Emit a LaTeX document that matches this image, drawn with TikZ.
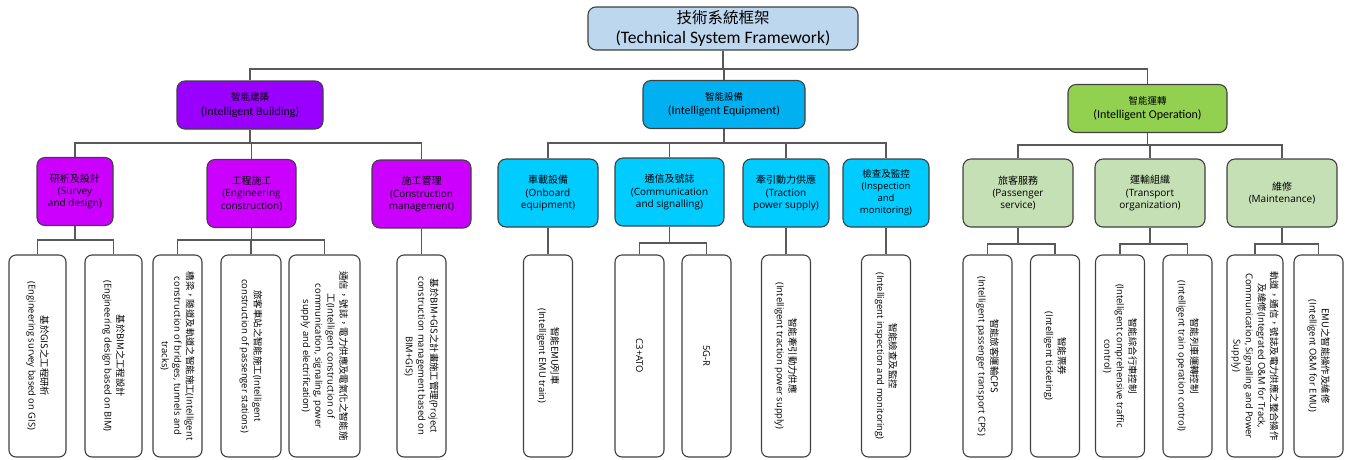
\documentclass[tikz,border=0pt]{standalone}
\usepackage{fontspec}
\setmainfont{Open Sans}
\newfontfamily\cjkfont{Noto Sans CJK TC}
\newfontfamily\calfont{Carlito}
\newcommand\zht[1]{{\cjkfont #1}}
\definecolor{rootc}{RGB}{189,215,238}
\definecolor{purA}{RGB}{153,0,255}
\definecolor{purB}{RGB}{204,0,255}
\definecolor{cyaA}{RGB}{0,176,240}
\definecolor{cyaB}{RGB}{0,204,255}
\definecolor{grnA}{RGB}{146,208,80}
\definecolor{grnB}{RGB}{197,224,180}
\definecolor{edgec}{RGB}{64,64,64}
\definecolor{connc}{RGB}{89,89,89}
\begin{document}
\begin{tikzpicture}[x=1pt,y=-1pt,
  box/.style={draw=edgec, line width=1.1pt, rounded corners=8pt, align=center, inner sep=0pt},
  rootbox/.style={box, fill=rootc, minimum width=270pt, minimum height=43pt, font=\calfont\fontsize{17.5}{20}\selectfont},
  lvA/.style={box, minimum height=48pt, font=\calfont\fontsize{12}{14.5}\selectfont},
  lvB/.style={box, minimum height=68pt, font=\fontsize{10}{12.3}\selectfont},
  leaf/.style={draw=edgec, line width=1.1pt, rounded corners=7pt, fill=white, minimum width=49pt, minimum height=202pt, inner sep=0pt},
  leaftext/.style={rotate=-90, align=center, inner sep=0pt, font=\fontsize{9.4}{12.3}\selectfont},
  conn/.style={draw=connc, line width=1.2pt}
]
\useasboundingbox (0,0) rectangle (1356,459);
\fill[white] (0,0) rectangle (1356,459);

% root
\node[rootbox] (root) at (723,28.5) {\zht{\fontsize{15.5}{20}\selectfont 技術系統框架}\\(Technical System Framework)};

% level 1
\node[lvA, fill=purA, minimum width=146pt] (bld) at (250,105) {\zht{\fontsize{9.5}{14.5}\selectfont 智能建築}\\(Intelligent Building)};
\node[lvA, fill=cyaA, minimum width=162pt] (equ) at (724,104.5) {\zht{\fontsize{9.5}{14.5}\selectfont 智能設備}\\(Intelligent Equipment)};
\node[lvA, fill=grnA, minimum width=159pt] (opr) at (1147.5,108.5) {\zht{\fontsize{9.5}{14.5}\selectfont 智能運轉}\\(Intelligent Operation)};

% level 2
\node[lvB, fill=purB, minimum width=76pt] (svy) at (75,191.5) {\zht{研析及設計}\\(Survey\\and design)};
\node[lvB, fill=purB, minimum width=89pt] (eng) at (251.5,193.5) {\zht{工程施工}\\(Engineering\\construction)};
\node[lvB, fill=purB, minimum width=99pt] (mgt) at (421.5,194) {\zht{施工管理}\\(Construction\\management)};
\node[lvB, fill=cyaB, minimum width=100pt] (onb) at (548,193) {\zht{車載設備}\\(Onboard\\equipment)};
\node[lvB, fill=cyaB, minimum width=109pt] (com) at (669.5,192) {\zht{通信及號誌}\\(Communication\\and signalling)};
\node[lvB, fill=cyaB, minimum width=86pt] (trc) at (786,193) {\zht{牽引動力供應}\\(Traction\\power supply)};
\node[lvB, fill=cyaB, minimum width=86pt, font=\fontsize{9.5}{12}\selectfont] (ins) at (886,193) {\zht{檢查及監控}\\(Inspection\\and\\monitoring)};
\node[lvB, fill=grnB, minimum width=110pt] (pas) at (1018,193) {\zht{旅客服務}\\(Passenger\\service)};
\node[lvB, fill=grnB, minimum width=110pt] (trn) at (1150,193) {\zht{運輸組織}\\(Transport\\organization)};
\node[lvB, fill=grnB, minimum width=110pt] (mnt) at (1282,193) {\zht{維修}\\(Maintenance)};

% leaves
\node[leaf, minimum width=57pt] (l1) at (37.5,356) {};
\node[leaftext] (l1t) at (l1) {\zht{基於GIS之工程研析}\\(Engineering survey based on GIS)};
\node[leaf, minimum width=57pt] (l2) at (113.5,356) {};
\node[leaftext] (l2t) at (l2) {\zht{基於BIM之工程設計}\\(Engineering design based on BIM)};
\node[leaf] (l3) at (177.5,356) {};
\node[leaftext] (l3t) at (l3) {\zht{橋梁，隧道及軌道之智能施工}(Intelligent\\construction of bridges, tunnels and\\tracks)};
\node[leaf, minimum width=60pt] (l4) at (251,356) {};
\node[leaftext] (l4t) at (l4) {\zht{旅客車站之智能施工}(Intelligent\\construction of passenger stations)};
\node[leaf, minimum width=71pt] (l5) at (324.5,356) {};
\node[leaftext] (l5t) at (l5) {\zht{通信，號誌，電力供應及電氣化之智能施}\\\zht{工}(Intelligent construction of\\communication, signaling, power\\supply and electrification)};
\node[leaf] (l6) at (421.5,356) {};
\node[leaftext] (l6t) at (l6) {\zht{基於BIM+GIS之計畫施工管理}(Project\\construction management based on\\BIM+GIS)};
\node[leaf] (l7) at (548,356) {};
\node[leaftext] (l7t) at (l7) {\zht{智能EMU列車}\\(Intelligent EMU train)};
\node[leaf] (l8) at (639.5,356) {};
\node[leaftext] (l8t) at (l8) {C3+ATO};
\node[leaf] (l9) at (706.5,356) {};
\node[leaftext] (l9t) at (l9) {5G-R};
\node[leaf] (l10) at (786,356) {};
\node[leaftext] (l10t) at (l10) {\zht{智能牽引動力供應}\\(Intelligent traction power supply)};
\node[leaf] (l11) at (886,356) {};
\node[leaftext] (l11t) at (l11) {\zht{智能檢查及監控}\\(Intelligent inspection and monitoring)};
\node[leaf] (l12) at (987.5,356) {};
\node[leaftext] (l12t) at (l12) {\zht{智能旅客運輸CPS}\\(Intelligent passenger transport CPS)};
\node[leaf] (l13) at (1055,356) {};
\node[leaftext] (l13t) at (l13) {\zht{智能票券}\\(Intelligent ticketing)};
\node[leaf] (l14) at (1120,356) {};
\node[leaftext] (l14t) at (l14) {\zht{智能綜合行車控制}\\(Intelligent comprehensive traffic\\control)};
\node[leaf] (l15) at (1187.5,356) {};
\node[leaftext] (l15t) at (l15) {\zht{智能列車運轉控制}\\(Intelligent train operation control)};
\node[leaf, minimum width=56pt] (l16) at (1255,356) {};
\node[leaftext] (l16t) at (l16) {\zht{軌道，通信，號誌及電力供應之整合操作}\\\zht{及維修}(Integrated O\&M for Track,\\Communication, Signalling and Power\\Supply)};
\node[leaf] (l17) at (1318.5,356) {};
\node[leaftext] (l17t) at (l17) {\zht{EMU之智能操作及維修}\\(Intelligent O\&M for EMU)};

% bus coordinates
\coordinate (bus0) at (0,69);
\coordinate (busB) at (0,143);
\coordinate (busE) at (0,143);
\coordinate (busO) at (0,145);
\coordinate (bus2) at (0,240);
\coordinate (bus2c) at (0,243);
\coordinate (bus2o) at (0,244);

% connectors root -> level 1
\foreach \c in {bld,equ,opr}
  \draw[conn] (root.south) -- (root.south |- bus0) -| (\c.north);
% level 1 -> level 2
\foreach \c in {svy,eng,mgt}
  \draw[conn] (bld.south) -- (bld.south |- busB) -| (\c.north);
\foreach \c in {onb,com,trc,ins}
  \draw[conn] (equ.south) -- (equ.south |- busE) -| (\c.north);
\foreach \c in {pas,trn,mnt}
  \draw[conn] (opr.south) -- (opr.south |- busO) -| (\c.north);
% level 2 -> leaves
\foreach \c in {l1,l2}
  \draw[conn] (svy.south) -- (svy.south |- bus2) -| (\c.north);
\foreach \c in {l3,l4,l5}
  \draw[conn] (eng.south) -- (eng.south |- bus2) -| (\c.north);
\draw[conn] (mgt.south) -- (l6.north);
\draw[conn] (onb.south) -- (l7.north);
\foreach \c in {l8,l9}
  \draw[conn] (com.south) -- (com.south |- bus2c) -| (\c.north);
\draw[conn] (trc.south) -- (l10.north);
\draw[conn] (ins.south) -- (l11.north);
\foreach \c in {l12,l13}
  \draw[conn] (pas.south) -- (pas.south |- bus2o) -| (\c.north);
\foreach \c in {l14,l15}
  \draw[conn] (trn.south) -- (trn.south |- bus2o) -| (\c.north);
\foreach \c in {l16,l17}
  \draw[conn] (mnt.south) -- (mnt.south |- bus2o) -| (\c.north);
\end{tikzpicture}
\end{document}
